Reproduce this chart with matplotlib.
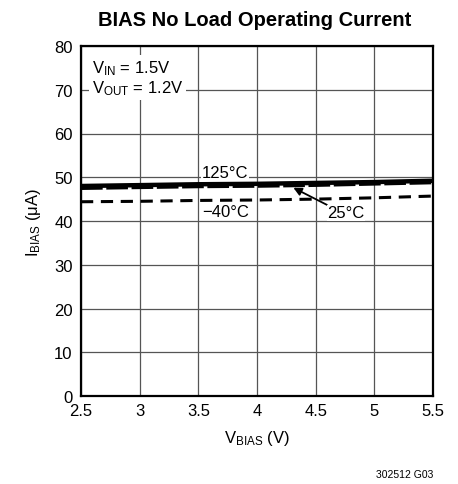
"""BIAS no-load operating current versus V_BIAS."""
import matplotlib

matplotlib.use("Agg")
import matplotlib.pyplot as plt
from matplotlib import font_manager

V_BIAS = [2.5, 3.0, 3.5, 4.0, 4.5, 5.0, 5.5]
I_125C = [48.0, 48.2, 48.4, 48.5, 48.7, 48.9, 49.2]
I_25C = [47.5, 47.7, 47.9, 48.0, 48.2, 48.5, 48.8]
I_M40C = [44.4, 44.5, 44.7, 44.8, 45.0, 45.3, 45.7]

X_TICKS = [2.5, 3, 3.5, 4, 4.5, 5, 5.5]
X_TICK_LABELS = ["2.5", "3", "3.5", "4", "4.5", "5", "5.5"]
Y_TICKS = [0, 10, 20, 30, 40, 50, 60, 70, 80]

names = {f.name for f in font_manager.fontManager.ttflist}
FONT = "Liberation Sans Narrow" if "Liberation Sans Narrow" in names else "Liberation Sans"
plt.rcParams["font.family"] = [FONT, "DejaVu Sans"]
plt.rcParams["mathtext.fontset"] = "custom"
plt.rcParams["mathtext.rm"] = FONT
plt.rcParams["mathtext.it"] = FONT


def main():
    fig = plt.figure(figsize=(4.58, 4.85), dpi=100)
    ax = fig.add_axes([81 / 458, 88 / 485, 352 / 458, 350 / 485])

    ax.plot(V_BIAS, I_M40C, color="black", lw=2.2, ls=(0, (4, 2.5)), zorder=3)
    ax.plot(V_BIAS, I_125C, color="black", lw=3.2, zorder=3)
    ax.plot(V_BIAS, I_25C, color="black", lw=2.6, ls=(0, (6, 1)), zorder=3)

    ax.set_xlim(2.5, 5.5)
    ax.set_ylim(0, 80)
    ax.set_xticks(X_TICKS)
    ax.set_xticklabels(X_TICK_LABELS)
    ax.set_yticks(Y_TICKS)
    ax.tick_params(length=0, labelsize=12, pad=5)
    ax.tick_params(axis="y", pad=6)
    ax.grid(True, color="#555555", linewidth=0.9)
    for s in ax.spines.values():
        s.set_linewidth(1.6)

    ax.text(3.73, 51.2, "125°C", fontsize=12, ha="center", va="center",
            bbox=dict(facecolor="white", edgecolor="none", pad=0.5), zorder=4)
    ax.text(3.73, 42.2, "\u221240°C", fontsize=12, ha="center", va="center",
            bbox=dict(facecolor="white", edgecolor="none", pad=0.5), zorder=4)
    ax.annotate("25°C", xy=(4.31, 47.6), xytext=(4.76, 41.9), fontsize=12,
                ha="center", va="center",
                bbox=dict(facecolor="white", edgecolor="none", pad=0.5),
                arrowprops=dict(arrowstyle="-|>", color="black", lw=1.3,
                                relpos=(0.0, 1.0), shrinkA=0, shrinkB=0,
                                mutation_scale=12),
                zorder=4)

    ax.text(0.03, 0.965, "$\\mathregular{V_{IN}}$ = 1.5V\n$\\mathregular{V_{OUT}}$ = 1.2V",
            transform=ax.transAxes, fontsize=12, ha="left", va="top",
            linespacing=1.1,
            bbox=dict(facecolor="white", edgecolor="none", pad=2), zorder=4)

    ax.set_xlabel("$\\mathregular{V_{BIAS}}$ (V)", fontsize=12, labelpad=7)
    ax.set_ylabel("$\\mathregular{I_{BIAS}}$ (\u03bcA)", fontsize=12, labelpad=8)
    fig.text(255 / 458, 1 - 20 / 485, "BIAS No Load Operating Current",
             fontsize=14.5, fontweight="bold", ha="center", va="center")
    fig.text(433 / 458, 1 - 475 / 485, "302512 G03", fontsize=7.5,
             ha="right", va="center")

    fig.savefig("out.png", dpi=100)


if __name__ == "__main__":
    main()
